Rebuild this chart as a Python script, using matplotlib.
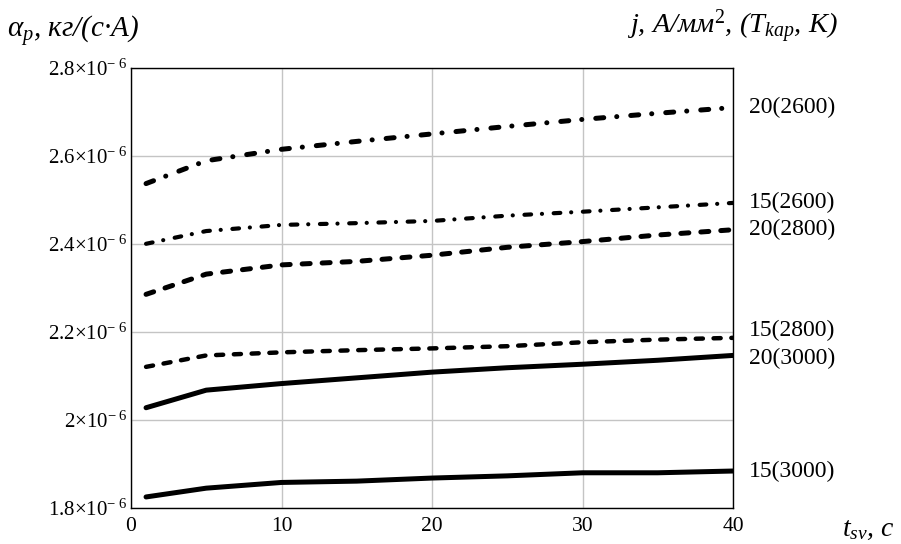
import numpy as np
import matplotlib
matplotlib.use('Agg')
import matplotlib.pyplot as plt
from matplotlib.ticker import FuncFormatter

plt.rcParams['font.family'] = ['Liberation Serif', 'DejaVu Serif']
plt.rcParams['mathtext.fontset'] = 'custom'
plt.rcParams['mathtext.rm'] = 'Liberation Serif'
plt.rcParams['mathtext.it'] = 'Liberation Serif:italic'

# time, s
t_sv = [1, 5, 10, 15, 20, 25, 30, 35, 40]

# alpha_p, x1e-6 kg/(s*A); label j(T_kap)
a_20_2600 = [2.537, 2.589, 2.615, 2.633, 2.650, 2.667, 2.683, 2.697, 2.710]
a_15_2600 = [2.400, 2.429, 2.443, 2.447, 2.452, 2.464, 2.473, 2.483, 2.493]
a_20_2800 = [2.285, 2.331, 2.352, 2.360, 2.374, 2.392, 2.405, 2.420, 2.432]
a_15_2800 = [2.120, 2.146, 2.153, 2.158, 2.162, 2.167, 2.176, 2.182, 2.186]
a_20_3000 = [2.027, 2.067, 2.082, 2.095, 2.108, 2.118, 2.126, 2.135, 2.146]
a_15_3000 = [1.824, 1.844, 1.857, 1.860, 1.867, 1.872, 1.879, 1.879, 1.883]

# label, values, style, line width, label y offset (px)
series = [
    ('20(2600)', a_20_2600, 'dashdot', 3.6, 0),
    ('15(2600)', a_15_2600, 'dashdot', 3.0, 0),
    ('20(2800)', a_20_2800, 'dashed', 3.6, 0),
    ('15(2800)', a_15_2800, 'dashed', 3.2, 7),
    ('20(3000)', a_20_3000, 'solid', 3.6, -3),
    ('15(3000)', a_15_3000, 'solid', 3.6, 0),
]

x_ticks = [0, 10, 20, 30, 40]
y_ticks = [1.8, 2.0, 2.2, 2.4, 2.6, 2.8]

# dash patterns in units of line width (round caps)
patterns = {'dashdot': (0, (1.6, 2.6, 0.02, 2.8)),
            'dashed': (0, (1.6, 2.4)),
            'solid': '-'}

fig = plt.figure(figsize=(9.01, 5.44), dpi=100)
ax = fig.add_axes([131 / 901, 1 - 507.5 / 544, (733 - 131) / 901, (507.5 - 68) / 544])

for label, vals, style, lw, dy in series:
    y = np.array(vals) * 1e-6
    ax.plot(t_sv, y, color='black', lw=lw, linestyle=patterns[style],
            dash_capstyle='round', solid_capstyle='round', solid_joinstyle='round')
    ax.annotate(label, xy=(t_sv[-1], y[-1]), xytext=(16, dy), textcoords='offset pixels',
                va='center', ha='left', fontsize=17, annotation_clip=False)

ax.set_xlim(0, 40)
ax.set_ylim(1.8e-6, 2.8e-6)
ax.set_xticks(x_ticks)
ax.set_yticks(np.array(y_ticks) * 1e-6)


def fmt_y(v, pos):
    m = '%g' % round(v * 1e6, 3)
    return r'$%s{\times}10^{-\;6}$' % m


ax.yaxis.set_major_formatter(FuncFormatter(fmt_y))
ax.tick_params(axis='y', length=0, pad=3, labelsize=15)
ax.tick_params(axis='x', length=0, pad=7, labelsize=15.5)
ax.grid(True, color='#c4c4c4', lw=1.0)
ax.set_axisbelow(True)
for s in ax.spines.values():
    s.set_color('black')
    s.set_linewidth(1.0)

fig.text(7 / 901, 1 - 38 / 544, r'$\alpha_p$, кг/(с·А)', fontsize=21, style='italic',
         ha='left', va='baseline')
fig.text(838 / 901, 1 - 34 / 544, r'j, A/мм$^2$, ($T_{kap}$, K)', fontsize=20.5, style='italic',
         ha='right', va='baseline')
fig.text(842 / 901, 1 - 536 / 544, r'$t_{sv}$, c', fontsize=20, style='italic',
         ha='left', va='baseline')

fig.savefig('out.png', dpi=100)
